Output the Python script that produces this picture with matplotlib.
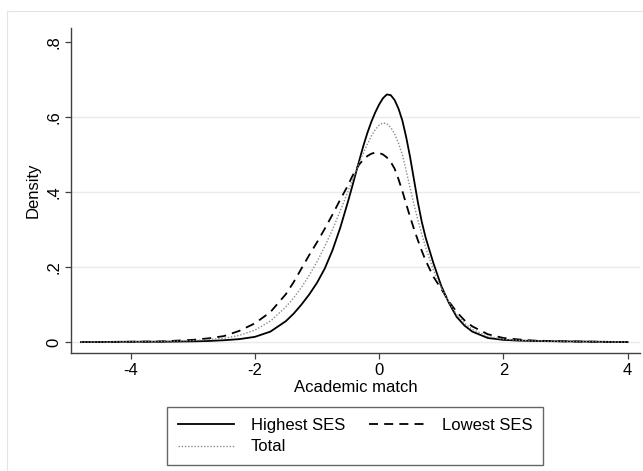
import matplotlib
matplotlib.use('Agg')
import matplotlib.pyplot as plt
from matplotlib.lines import Line2D

# Kernel density of academic match.
match_x = [-4.8, -4.0, -3.5, -3.0, -2.75, -2.5, -2.25, -2.0, -1.75, -1.5,
           -1.375, -1.25, -1.125, -1.0, -0.875, -0.75, -0.625, -0.5, -0.4375,
           -0.375, -0.3125, -0.25, -0.1875, -0.125, -0.0625, 0.0, 0.0625, 0.125,
           0.1875, 0.25, 0.3125, 0.375, 0.4375, 0.5, 0.5625, 0.625, 0.6875,
           0.75, 0.875, 1.0, 1.125, 1.25, 1.375, 1.5, 1.75, 2.0, 2.25, 2.5,
           3.0, 3.5, 4.0]
dens_high = [0.000, 0.001, 0.001, 0.002, 0.003, 0.005, 0.008, 0.014, 0.028, 0.056,
             0.076, 0.100, 0.127, 0.158, 0.196, 0.245, 0.305, 0.375, 0.412,
             0.450, 0.488, 0.525, 0.558, 0.587, 0.612, 0.633, 0.650, 0.660,
             0.658, 0.645, 0.622, 0.590, 0.545, 0.492, 0.432, 0.372, 0.320,
             0.278, 0.210, 0.150, 0.104, 0.067, 0.044, 0.028, 0.011, 0.006, 0.004, 0.003,
             0.002, 0.001, 0.000]
dens_low = [0.000, 0.001, 0.002, 0.006, 0.010, 0.016, 0.030, 0.050, 0.080, 0.128,
            0.160, 0.196, 0.232, 0.266, 0.302, 0.340, 0.380, 0.418, 0.440,
            0.460, 0.475, 0.487, 0.496, 0.502, 0.505, 0.504, 0.500, 0.492,
            0.480, 0.462, 0.434, 0.402, 0.367, 0.333, 0.301, 0.271, 0.243,
            0.217, 0.174, 0.142, 0.108, 0.080, 0.058, 0.042, 0.021, 0.011, 0.007, 0.004,
            0.002, 0.001, 0.000]
dens_total = [0.000, 0.001, 0.002, 0.004, 0.007, 0.010, 0.018, 0.032, 0.056, 0.094,
              0.118, 0.146, 0.178, 0.214, 0.255, 0.300, 0.350, 0.402, 0.428,
              0.455, 0.481, 0.505, 0.528, 0.549, 0.566, 0.578, 0.584, 0.582,
              0.572, 0.555, 0.530, 0.499, 0.456, 0.410, 0.366, 0.325, 0.287,
              0.252, 0.192, 0.145, 0.106, 0.073, 0.050, 0.034, 0.015, 0.008, 0.005, 0.003,
              0.002, 0.001, 0.000]

y_ticks = [0, 0.2, 0.4, 0.6, 0.8]
y_labels = ['0', '.2', '.4', '.6', '.8']
x_ticks = [-4, -2, 0, 2, 4]

plt.rcParams['font.family'] = ['Liberation Sans', 'DejaVu Sans']
plt.rcParams['font.size'] = 12

W, H = 643, 471
fig = plt.figure(figsize=(W / 100, H / 100), dpi=100)
ax = fig.add_axes([71 / W, 1 - 353 / H, (640 - 71) / W, (353 - 28) / H])

# faint outer border of the graph region
fig.add_artist(Line2D([7 / W, 7 / W], [0, 1 - 11 / H], transform=fig.transFigure,
                      color='#e4e4e4', lw=0.8))
fig.add_artist(Line2D([7 / W, 1], [1 - 11 / H, 1 - 11 / H], transform=fig.transFigure,
                      color='#e4e4e4', lw=0.8))

for g in y_ticks[:-1]:
    ax.axhline(g, color='#e3ecef', lw=1.0, zorder=0)

l_high, = ax.plot(match_x, dens_high, color='black', lw=1.3, label='Highest SES')
l_low, = ax.plot(match_x, dens_low, color='black', lw=1.3, dashes=(5, 3.4),
                 label='Lowest SES')
l_tot, = ax.plot(match_x, dens_total, color='#8a8a8a', lw=1.0, dashes=(1, 1.3),
                 label='Total')

ax.set_xlim(-4.96, 4.2)
ax.set_ylim(-0.029, 0.837)
ax.set_xticks(x_ticks)
ax.set_xticklabels([str(t) for t in x_ticks])
ax.set_yticks(y_ticks)
ax.set_yticklabels(y_labels, rotation=90, va='center')

for s in ['top', 'right']:
    ax.spines[s].set_visible(False)
for s in ['left', 'bottom']:
    ax.spines[s].set_color('#404040')
    ax.spines[s].set_linewidth(1.0)
ax.tick_params(length=4, width=0.9, color='#404040', pad=3)

ax.set_xlabel('Academic match', labelpad=2)
ax.set_ylabel('Density', labelpad=4)

# row-wise order like the original: Highest, Lowest / Total
leg = fig.legend([l_high, l_tot, l_low], ['Highest SES', 'Total', 'Lowest SES'],
                 ncol=2, loc='center', bbox_to_anchor=(355 / W, 1 - 436 / H),
                 frameon=True, fancybox=False, edgecolor='#404040',
                 handlelength=3.4, handletextpad=1.0, columnspacing=1.4,
                 borderpad=0.65, labelspacing=0.4)
leg.get_frame().set_linewidth(1.0)

fig.savefig('out.png', dpi=100)
